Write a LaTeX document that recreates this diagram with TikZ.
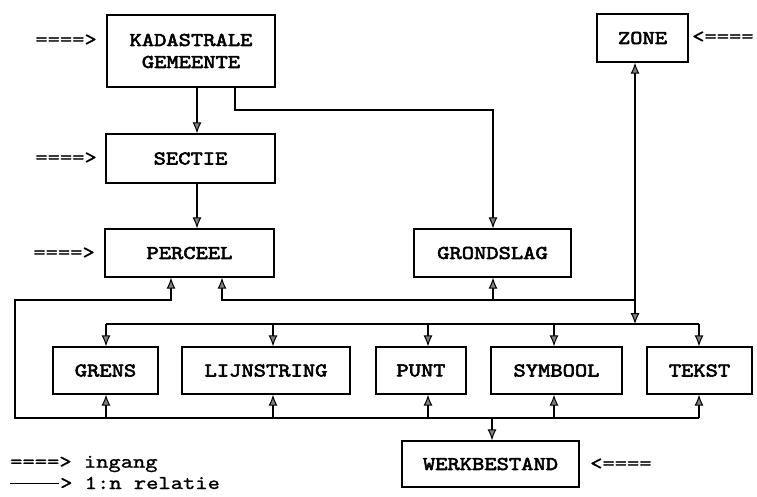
\documentclass[tikz,border=0pt]{standalone}
\usepackage{fontspec}
\newfontfamily\boxfont{lmmono10-regular.otf}[FakeStretch=1.2,FakeBold=3]
\newfontfamily\plainfont{lmmono10-regular.otf}[FakeStretch=1.2,FakeBold=1.2]
\usetikzlibrary{arrows.meta}
\begin{document}
\begin{tikzpicture}[x=1pt,y=-1pt,
  box/.style={draw, line width=1.3pt, inner sep=0pt, align=center,
    font=\boxfont\fontsize{19.5}{22}\selectfont},
  entry/.style={inner sep=0pt, font=\plainfont\fontsize{19.5}{22}\selectfont},
  wire/.style={line width=1.3pt},
  tipstyle/.tip={Latex[length=11pt,width=9pt,fill=gray,line width=1pt]},
  rel/.style={wire, -tipstyle},
  both/.style={wire, tipstyle-tipstyle}
]
\useasboundingbox (0,0) rectangle (757,496);

% entities
\node[box, minimum width=168, minimum height=72] (kg) at (191,51) {KADASTRALE\\GEMEENTE};
\node[box, minimum width=169, minimum height=49] (sectie) at (190.5,158.5) {SECTIE};
\node[box, minimum width=169, minimum height=48] (perceel) at (189.5,253) {PERCEEL};
\node[box, minimum width=91, minimum height=48] (zone) at (642.5,38) {ZONE};
\node[box, minimum width=157, minimum height=48] (grondslag) at (492.5,253) {GRONDSLAG};
\node[box, minimum width=105, minimum height=47] (grens) at (105.5,370.5) {GRENS};
\node[box, minimum width=168, minimum height=47] (lijn) at (266,370.5) {LIJNSTRING};
\node[box, minimum width=90, minimum height=47] (punt) at (421,370.5) {PUNT};
\node[box, minimum width=131, minimum height=47] (symbool) at (556.5,370.5) {SYMBOOL};
\node[box, minimum width=105, minimum height=47] (tekst) at (699.5,370.5) {TEKST};
\node[box, minimum width=177, minimum height=46] (werk) at (490.5,464) {WERKBESTAND};

% entry points
\node[entry, anchor=east] (ekg) at (97,40) {====>};
\node[entry, anchor=east] (esectie) at (97,158) {====>};
\node[entry, anchor=east] (eperceel) at (95,253) {====>};
\node[entry, anchor=west] (ezone) at (692,37) {<====};
\node[entry, anchor=west] (ewerk) at (590,464) {<====};

% legend
\node[entry, anchor=west] (lg1) at (10,464) {====> ingang};
\node[entry, anchor=west] (lg2) at (10,483) {\makebox[50pt][l]{\rule[5pt]{49pt}{1.1pt}}> 1:n relatie};

% columns and rows of the wiring
\coordinate (cA) at (197,0);
\coordinate (cB) at (235,110);
\coordinate (cZ) at (635,0);
\coordinate (cP1) at (171,0);
\coordinate (cP2) at (222,0);
\coordinate (cLeft) at (15,0);
\coordinate (cGd) at (493,0);
\coordinate (cG) at (106,0);
\coordinate (cLi) at (273,0);
\coordinate (cPu) at (428,0);
\coordinate (cSy) at (554,0);
\coordinate (cT) at (699,0);
\coordinate (cW) at (492,0);
\coordinate (busA) at (0,300);
\coordinate (busB) at (0,324);
\coordinate (busC) at (0,418);

% hierarchy
\draw[rel] (kg.south -| cA) -- (sectie.north -| cA);
\draw[rel] (sectie.south -| cA) -- (perceel.north -| cA);
\draw[rel] (cB |- kg.south) -- (cB) -| (cGd |- grondslag.north);

% zone link
\draw[both] (cZ |- busB) -- (cZ |- zone.south);
\draw[rel] (cZ |- busA) -| (cP2 |- perceel.south);
\draw[rel] (cGd |- busA) -- (cGd |- grondslag.south);

% distribution bus to the map objects
\draw[wire] (cG |- busB) -- (cT |- busB);
\draw[rel] (cG |- busB) -- (cG |- grens.north);
\draw[rel] (cLi |- busB) -- (cLi |- lijn.north);
\draw[rel] (cPu |- busB) -- (cPu |- punt.north);
\draw[rel] (cSy |- busB) -- (cSy |- symbool.north);
\draw[rel] (cT |- busB) -- (cT |- tekst.north);

% collecting bus from the work file
\draw[rel] (cT |- busC) -| (cLeft |- busA) -| (cP1 |- perceel.south);
\draw[rel] (cT |- busC) -- (cT |- tekst.south);
\draw[rel] (cG |- busC) -- (cG |- grens.south);
\draw[rel] (cLi |- busC) -- (cLi |- lijn.south);
\draw[rel] (cPu |- busC) -- (cPu |- punt.south);
\draw[rel] (cSy |- busC) -- (cSy |- symbool.south);
\draw[rel] (cW |- busC) -- (cW |- werk.north);
\end{tikzpicture}
\end{document}
